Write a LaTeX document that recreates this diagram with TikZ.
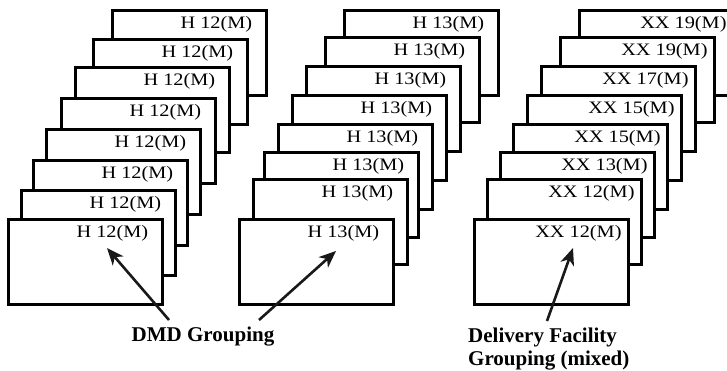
\documentclass[tikz,border=0pt]{standalone}
\usepackage{fontspec}
\setmainfont{Liberation Serif}
\newfontfamily\cardfont[FakeStretch=1.16]{Liberation Serif}
\usetikzlibrary{arrows.meta}

\begin{document}
\begin{tikzpicture}[x=1pt,y=-1pt,
  card/.style={draw,fill=white,line width=2.8pt,minimum width=154pt,minimum height=85pt,anchor=north west,inner sep=0pt},
  tag/.style={font=\cardfont\fontsize{17.5}{20}\selectfont,inner sep=0pt},
  group/.style={font=\bfseries\fontsize{21}{23}\selectfont,inner sep=7pt},
  pointer/.style={-{Stealth[length=17pt,width=14pt,inset=5pt]},line width=2.6pt,color=black!90}]
  \clip (0,0) rectangle (727,371);
  % DMD stacks
  \foreach \x/\y/\t [count=\i] in {111/9/H 12(M),92/38/H 12(M),74/66/H 12(M),60/97/H 12(M),
      45/128/H 12(M),32/159/H 12(M),20/189/H 12(M),7/218/H 12(M)}
  {
    \node[card] (a\i) at (\x,\y) {};
    \node[tag] (a\i-t) at ([xshift=27pt,yshift=-15pt]a\i.north) {\t};
  }
  \foreach \x/\y/\t [count=\i] in {343/9/H 13(M),324/36/H 13(M),305/65/H 13(M),291/94/H 13(M),
      277/123/H 13(M),263/151/H 13(M),252/178/H 13(M),238/218/H 13(M)}
  {
    \node[card] (b\i) at (\x,\y) {};
    \node[tag] (b\i-t) at ([xshift=27pt,yshift=-15pt]b\i.north) {\t};
  }
  % delivery facility stack
  \foreach \x/\y/\t [count=\i] in {578/9/XX 19(M),559/36/XX 19(M),540/65/XX 17(M),526/94/XX 15(M),
      512/123/XX 15(M),499/151/XX 13(M),486/178/XX 12(M),473/218/XX 12(M)}
  {
    \node[card] (c\i) at (\x,\y) {};
    \node[tag] (c\i-t) at ([xshift=27pt,yshift=-15pt]c\i.north) {\t};
  }

  \node[group,anchor=north] (dmd) at (203,320) {DMD Grouping};
  \node[group,anchor=north west,align=left] (dfg) at (461,321) {Delivery Facility\\Grouping (mixed)};

  \coordinate (tipa) at (107,248);
  \coordinate (tipb) at (336,251);
  \coordinate (tipc) at (573,248);
  \draw[pointer] ([xshift=-34pt]dmd.north) -- (tipa);
  \draw[pointer] ([xshift=56pt]dmd.north) -- (tipb);
  \draw[pointer] ([xshift=86pt]dfg.north west) -- (tipc);
\end{tikzpicture}
\end{document}
